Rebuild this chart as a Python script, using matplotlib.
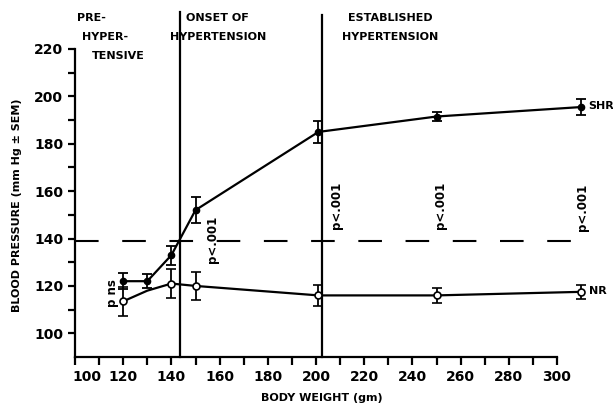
import matplotlib
matplotlib.use("Agg")
import matplotlib.pyplot as plt
from matplotlib.transforms import ScaledTranslation

# ---- data ----
shr_x = [120, 130, 140, 150, 201, 250, 310]
shr_y = [122, 122, 133, 152, 185, 191.5, 195.5]
shr_err = [3.5, 3, 4, 5.5, 4.5, 2, 3.5]

nr_x = [120, 130, 140, 150, 201, 250, 310]
nr_y = [113.5, 118, 121, 120, 116, 116, 117.5]
nr_err = [6, 0, 6, 6, 4.5, 3, 3]
nr_marked = [0, 2, 3, 4, 5, 6]

phase_bounds = [143.5, 202.5]
threshold = 139

xtick_major = [100, 120, 140, 160, 180, 200, 220, 240, 260, 280, 300]
xtick_minor = [110, 130, 150, 170, 190, 210, 230, 250, 270, 290]
ytick_major = [100, 120, 140, 160, 180, 200, 220]
ytick_minor = [110, 130, 150, 170, 190, 210]

p_labels = ["p ns", "p<.001", "p<.001", "p<.001", "p<.001"]
p_label_x = [112, 213, 337, 440, 582]   # pixel centres
p_label_y = [293, 239, 205, 205, 207]

W, H = 613, 408
plt.rcParams['lines.scale_dashes'] = False
fig = plt.figure(figsize=(W / 100, H / 100), dpi=100)
ax = fig.add_axes([75 / W, 1 - 357 / H, (557 - 75) / W, (357 - 49) / H])

ax.set_xlim(100, 300)
ax.set_ylim(90, 220)

for s in ['top', 'right']:
    ax.spines[s].set_visible(False)
for s in ['left', 'bottom']:
    ax.spines[s].set_linewidth(1.6)

ax.set_xticks(xtick_major)
ax.set_xticks(xtick_minor, minor=True)
ax.set_yticks(ytick_major)
ax.set_yticks(ytick_minor, minor=True)
ax.tick_params(which='both', direction='out', width=1.6, length=5)
ax.tick_params(axis='x', which='both', length=6)
for lab in ax.get_xticklabels() + ax.get_yticklabels():
    lab.set_fontweight('bold')
    lab.set_fontsize(10)
# the "100" label sits a bit right of the spine in the original
xl = ax.get_xticklabels()
xl[0].set_transform(xl[0].get_transform() + ScaledTranslation(12 / 100, 0, fig.dpi_scale_trans))

# threshold dashed line
ax.plot([100, 309.5], [threshold, threshold], color='black', lw=1.5,
        dashes=(17, 17), clip_on=False)

# phase boundaries
ax.axvline(phase_bounds[0], ymin=0, ymax=1.12, color='black', lw=1.6, clip_on=False)
ax.axvline(phase_bounds[1], ymin=0, ymax=1.11, color='black', lw=1.6, clip_on=False)

# SHR
ax.errorbar(shr_x, shr_y, yerr=shr_err, fmt='-o', color='black', lw=1.6,
            ms=4.5, mfc='black', capsize=3.5, elinewidth=1.3, capthick=1.3,
            clip_on=False, zorder=5)
# NR
ax.plot(nr_x, nr_y, '-', color='black', lw=1.6, clip_on=False, zorder=4)
ax.errorbar([nr_x[i] for i in nr_marked], [nr_y[i] for i in nr_marked],
            yerr=[nr_err[i] for i in nr_marked], fmt='o', color='black',
            ms=5, mfc='white', mew=1.2, capsize=3.5, elinewidth=1.3, capthick=1.3,
            clip_on=False, zorder=6)

def px(x, y):
    return x / W, 1 - y / H

tk = dict(fontweight='bold', color='black')
fig.text(*px(588, 106), "SHR", ha='left', va='center', fontsize=8, **tk)
fig.text(*px(589, 291), "NR", ha='left', va='center', fontsize=8, **tk)

for lab, x, y in zip(p_labels, p_label_x, p_label_y):
    fig.text(*px(x, y), lab, rotation=90, ha='center', va='center', fontsize=8.5, **tk)

fig.text(*px(77, 18), "PRE-", ha='left', va='center', fontsize=8, **tk)
fig.text(*px(82, 37), "HYPER-", ha='left', va='center', fontsize=8, **tk)
fig.text(*px(92, 56), "TENSIVE", ha='left', va='center', fontsize=8, **tk)
fig.text(*px(217, 18), "ONSET OF", ha='center', va='center', fontsize=8, **tk)
fig.text(*px(218, 37), "HYPERTENSION", ha='center', va='center', fontsize=8, **tk)
fig.text(*px(390, 18), "ESTABLISHED", ha='center', va='center', fontsize=8, **tk)
fig.text(*px(390, 37), "HYPERTENSION", ha='center', va='center', fontsize=8, **tk)

fig.text(*px(17, 205), "BLOOD PRESSURE (mm Hg \u00b1 SEM)", rotation=90,
         ha='center', va='center', fontsize=8, **tk)
fig.text(*px(322, 398), "BODY WEIGHT (gm)", ha='center', va='center', fontsize=8, **tk)

fig.savefig("out.png", dpi=100)
